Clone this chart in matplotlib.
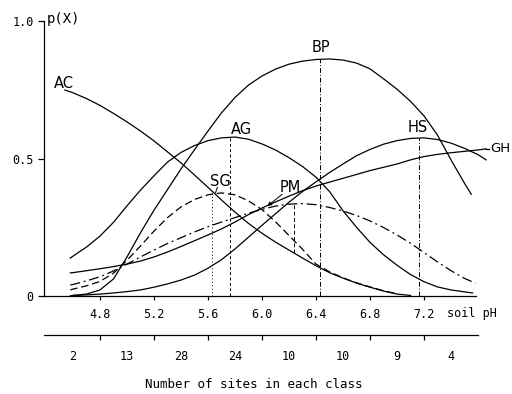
import matplotlib
matplotlib.use('Agg')
import matplotlib.pyplot as plt

# ---------------- data ----------------
ac_ph = [4.54, 4.6, 4.7, 4.8, 4.9, 5.0, 5.1, 5.2, 5.3, 5.4, 5.5, 5.6, 5.7, 5.8, 5.9,
         6.0, 6.1, 6.2, 6.3, 6.4, 6.5, 6.6, 6.7, 6.8, 6.9, 7.0, 7.1]
ac_p = [0.749, 0.739, 0.718, 0.693, 0.664, 0.633, 0.600, 0.564, 0.524, 0.484, 0.440,
        0.395, 0.349, 0.305, 0.264, 0.228, 0.196, 0.167, 0.138, 0.110, 0.085, 0.065,
        0.047, 0.032, 0.018, 0.007, 0.002]

ag_ph = [4.58, 4.6, 4.7, 4.8, 4.9, 5.0, 5.1, 5.2, 5.3, 5.4, 5.5, 5.6, 5.7, 5.8, 5.9,
         6.0, 6.1, 6.2, 6.3, 6.4, 6.5, 6.6, 6.7, 6.8, 6.9, 7.0, 7.1, 7.2, 7.3, 7.4,
         7.5, 7.56]
ag_p = [0.138, 0.145, 0.178, 0.218, 0.268, 0.328, 0.385, 0.437, 0.487, 0.522, 0.547,
        0.565, 0.575, 0.578, 0.570, 0.553, 0.531, 0.503, 0.471, 0.432, 0.380, 0.310,
        0.250, 0.195, 0.150, 0.112, 0.078, 0.052, 0.033, 0.022, 0.015, 0.011]

bp_ph = [4.58, 4.6, 4.7, 4.8, 4.9, 5.0, 5.1, 5.2, 5.3, 5.4, 5.5, 5.6, 5.7, 5.8, 5.9,
         6.0, 6.1, 6.2, 6.3, 6.4, 6.5, 6.6, 6.7, 6.8, 6.9, 7.0, 7.1, 7.2, 7.3, 7.4,
         7.5, 7.55]
bp_p = [0.000, 0.002, 0.007, 0.022, 0.062, 0.142, 0.230, 0.312, 0.387, 0.462, 0.532,
        0.600, 0.666, 0.722, 0.767, 0.800, 0.825, 0.843, 0.854, 0.860, 0.862, 0.858,
        0.847, 0.826, 0.790, 0.752, 0.708, 0.655, 0.585, 0.495, 0.410, 0.370]

hs_ph = [4.58, 4.6, 4.7, 4.8, 4.9, 5.0, 5.1, 5.2, 5.3, 5.4, 5.5, 5.6, 5.7, 5.8, 5.9,
         6.0, 6.1, 6.2, 6.3, 6.4, 6.5, 6.6, 6.7, 6.8, 6.9, 7.0, 7.1, 7.2, 7.3, 7.4,
         7.5, 7.6, 7.66]
hs_p = [0.000, 0.002, 0.004, 0.007, 0.011, 0.016, 0.022, 0.032, 0.044, 0.058, 0.076,
        0.101, 0.132, 0.171, 0.214, 0.257, 0.299, 0.341, 0.380, 0.415, 0.449, 0.480,
        0.510, 0.533, 0.552, 0.565, 0.573, 0.575, 0.569, 0.556, 0.537, 0.514, 0.495]

gh_ph = [4.58, 4.6, 4.7, 4.8, 4.9, 5.0, 5.1, 5.2, 5.3, 5.4, 5.5, 5.6, 5.7, 5.8, 5.9,
         6.0, 6.1, 6.2, 6.3, 6.4, 6.5, 6.6, 6.7, 6.8, 6.9, 7.0, 7.1, 7.2, 7.3, 7.4,
         7.5, 7.6, 7.66]
gh_p = [0.084, 0.085, 0.092, 0.099, 0.107, 0.116, 0.127, 0.142, 0.160, 0.180, 0.201,
        0.222, 0.244, 0.269, 0.296, 0.320, 0.342, 0.363, 0.383, 0.400, 0.414, 0.428,
        0.442, 0.456, 0.468, 0.480, 0.495, 0.507, 0.515, 0.521, 0.526, 0.531, 0.535]

sg_ph = [4.58, 4.6, 4.7, 4.8, 4.9, 5.0, 5.1, 5.2, 5.3, 5.4, 5.5, 5.6, 5.7, 5.8, 5.9,
         6.0, 6.1, 6.2, 6.3, 6.4, 6.5, 6.6, 6.7, 6.8, 6.9, 7.0]
sg_p = [0.022, 0.025, 0.037, 0.053, 0.083, 0.130, 0.182, 0.236, 0.285, 0.324, 0.351,
        0.368, 0.375, 0.368, 0.346, 0.314, 0.270, 0.220, 0.170, 0.116, 0.088, 0.066,
        0.048, 0.033, 0.019, 0.008]

pm_ph = [4.58, 4.6, 4.7, 4.8, 4.9, 5.0, 5.1, 5.2, 5.3, 5.4, 5.5, 5.6, 5.7, 5.8, 5.9,
         6.0, 6.1, 6.2, 6.3, 6.4, 6.5, 6.6, 6.7, 6.8, 6.9, 7.0, 7.1, 7.2, 7.3, 7.4,
         7.5, 7.58]
pm_p = [0.040, 0.042, 0.055, 0.070, 0.091, 0.116, 0.142, 0.167, 0.191, 0.212, 0.233,
        0.252, 0.269, 0.285, 0.301, 0.315, 0.327, 0.334, 0.336, 0.332, 0.322, 0.309,
        0.293, 0.273, 0.249, 0.222, 0.192, 0.158, 0.124, 0.092, 0.064, 0.047]

ph_ticks = [4.8, 5.2, 5.6, 6.0, 6.4, 6.8, 7.2]
ph_tick_labels = ['4.8', '5.2', '5.6', '6.0', '6.4', '6.8', '7.2']
class_mids = [4.6, 5.0, 5.4, 5.8, 6.2, 6.6, 7.0, 7.4]
site_counts = ['2', '13', '28', '24', '10', '10', '9', '4']
y_ticks = [0, 0.5, 1.0]
y_tick_labels = ['0', '0.5', '1.0']

# peak markers: (pH, y from, y to)
sg_peak = (5.63, 0.0, 0.375)
ag_peak = (5.76, 0.0, 0.578)
pm_peak = (6.24, 0.155, 0.335)
bp_peak = (6.43, 0.0, 0.862)
hs_peak = (7.16, 0.0, 0.575)

# ---------------- drawing ----------------
MONO = 'DejaVu Sans Mono'
W, H = 512, 394
fig = plt.figure(figsize=(W / 100, H / 100), dpi=100)

def px2x(px):
    return 4.8 + (px - 100) / 135.0

X0, X1 = px2x(44), px2x(500)
ax = fig.add_axes([44 / W, 98 / H, 456 / W, 275 / H])
ax.set_xlim(X0, X1)
ax.set_ylim(0, 1)
ax.patch.set_visible(False)
for s in ['top', 'right']:
    ax.spines[s].set_visible(False)
ax.spines['left'].set_bounds(0, 1)
ax.spines['bottom'].set_bounds(X0, px2x(476))
for s in ['left', 'bottom']:
    ax.spines[s].set_linewidth(0.9)

ax.set_xticks(ph_ticks)
ax.set_xticklabels(ph_tick_labels, fontfamily=MONO, fontsize=8.5)
ax.tick_params(axis='x', direction='out', length=3, width=0.9, pad=5.5)
ax.set_yticks(y_ticks)
ax.set_yticklabels(y_tick_labels, fontfamily=MONO, fontsize=8.5)
ax.tick_params(axis='y', direction='out', length=4.5, width=0.9, pad=3)

lw = 0.9
ax.plot(ac_ph, ac_p, color='black', lw=lw)
ax.plot(ag_ph, ag_p, color='black', lw=lw)
ax.plot(bp_ph, bp_p, color='black', lw=lw)
ax.plot(hs_ph, hs_p, color='black', lw=lw)
ax.plot(gh_ph, gh_p, color='black', lw=lw)
ax.plot(sg_ph, sg_p, color='black', lw=lw, linestyle=(0, (6, 3)))
ax.plot(pm_ph, pm_p, color='black', lw=lw, linestyle=(0, (8, 3, 1.5, 3)))

# peak verticals
ax.plot([sg_peak[0]] * 2, sg_peak[1:], color='black', lw=0.7, linestyle=(0, (1, 2.5)))
ax.plot([ag_peak[0]] * 2, ag_peak[1:], color='black', lw=0.7, linestyle=(0, (3, 2.5)))
ax.plot([pm_peak[0]] * 2, pm_peak[1:], color='black', lw=0.7, linestyle=(0, (4, 2.5)))
ax.plot([bp_peak[0]] * 2, bp_peak[1:], color='black', lw=0.7, linestyle=(0, (5, 2, 1, 2)))
ax.plot([hs_peak[0]] * 2, hs_peak[1:], color='black', lw=0.7, linestyle=(0, (5, 2, 1, 2)))

# curve labels
lab = dict(fontsize=10.5, ha='center', va='center', color='black')
ax.text(4.533, 0.771, 'AC', **lab)
ax.text(5.85, 0.607, 'AG', **lab)
ax.text(5.69, 0.418, 'SG', **lab)
ax.plot([5.67, 5.655], [0.395, 0.375], color='black', lw=0.7)
ax.text(6.207, 0.396, 'PM', **lab)
ax.annotate('', xy=(6.04, 0.327), xytext=(6.15, 0.37),
            arrowprops=dict(arrowstyle='-|>', lw=0.7, color='black',
                            mutation_scale=6, shrinkA=0, shrinkB=0))
ax.text(6.437, 0.905, 'BP', **lab)
ax.text(7.156, 0.611, 'HS', **lab)
ax.plot([7.66, px2x(489)], [0.535, 0.535], color='black', lw=lw, clip_on=False)
ax.text(px2x(490), 0.535, 'GH', fontsize=9.5, ha='left', va='center', clip_on=False)

ax.text(4.407, 1.007, 'p(X)', fontfamily=MONO, fontsize=10, ha='left', va='center')
ax.text(px2x(447), -0.062, 'soil pH', fontfamily=MONO, fontsize=8.5,
        ha='left', va='center', clip_on=False)

# second axis: number of sites per class
ax2 = fig.add_axes([44 / W, 59 / H, 456 / W, 0.0001])
ax2.set_xlim(X0, X1)
ax2.patch.set_visible(False)
for s in ['top', 'right', 'left']:
    ax2.spines[s].set_visible(False)
ax2.spines['bottom'].set_bounds(X0, px2x(478))
ax2.spines['bottom'].set_linewidth(0.9)
ax2.set_yticks([])
ax2.set_xticks(ph_ticks)
ax2.set_xticklabels([''] * len(ph_ticks))
ax2.set_xticks(class_mids, minor=True)
ax2.set_xticklabels(site_counts, minor=True, fontfamily=MONO, fontsize=8.5)
ax2.tick_params(axis='x', which='major', direction='out', length=3.5, width=0.9)
ax2.tick_params(axis='x', which='minor', length=0, pad=11)

fig.text(254 / W, 1 - 385 / H, 'Number of sites in each class', fontfamily=MONO,
         fontsize=9, ha='center', va='center')

fig.savefig('out.png', dpi=100)
